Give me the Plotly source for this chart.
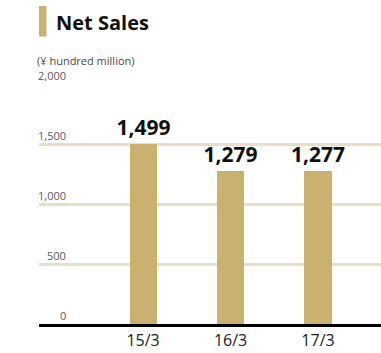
import plotly.graph_objects as go

# Net sales by fiscal year (¥ hundred million)
years = ["15/3", "16/3", "17/3"]
net_sales = [1499, 1279, 1277]
y_ticks = [0, 500, 1000, 1500, 2000]
y_tick_labels = ["0", "500", "1,000", "1,500", "2,000"]

GOLD = "#C9B170"
GRID = "#E9DFC3"
FONT = "Open Sans, sans-serif"

W, H = 381, 353
L, R, T, B = 39, 0, 84, 29
pw, ph = W - L - R, H - T - B


def px(x):
    return (x - L) / pw


def py(y):
    return (H - B - y) / ph


fig = go.Figure()
fig.add_trace(go.Bar(
    x=list(range(len(years))),
    y=net_sales,
    width=0.31,
    marker=dict(color=GOLD, line=dict(width=0)),
    text=[f"{v:,}" for v in net_sales],
    textposition="outside",
    constraintext="none",
    cliponaxis=False,
    textfont=dict(family=FONT, size=21, color="#111111", weight="bold"),
    hoverinfo="skip",
))

annotations = []
for v, lab in zip(y_ticks, y_tick_labels):
    annotations.append(dict(
        x=px(68), xref="paper", y=v, yref="y", text=lab,
        xanchor="right", yanchor="bottom", showarrow=False, yshift=-1,
        font=dict(family=FONT, size=11, color="#5a5a5a"),
    ))

annotations.append(dict(
    x=px(54), xref="paper", y=py(22), yref="paper", text="<b>Net Sales</b>",
    xanchor="left", yanchor="middle", showarrow=False,
    font=dict(family=FONT, size=20, color="#111111"),
))
annotations.append(dict(
    x=px(35), xref="paper", y=py(61), yref="paper", text="(¥ hundred million)",
    xanchor="left", yanchor="middle", showarrow=False,
    font=dict(family=FONT, size=11, color="#4a4a4a"),
))

shapes = [dict(
    type="rect", xref="paper", yref="paper",
    x0=px(39), x1=px(46.5), y0=py(36.5), y1=py(6),
    fillcolor=GOLD, line=dict(width=0),
)]

fig.update_layout(
    width=W, height=H,
    margin=dict(l=L, r=R, t=T, b=B),
    paper_bgcolor="white", plot_bgcolor="white",
    showlegend=False,
    bargap=0,
    font=dict(family=FONT),
    xaxis=dict(
        range=[-1.19, 2.72],
        tickvals=list(range(len(years))),
        ticktext=years,
        tickfont=dict(family=FONT, size=16, color="#222222"),
        showgrid=False, zeroline=False,
        showline=True, linecolor="#000000", linewidth=2.5,
        ticks="", ticklen=0,
        fixedrange=True,
    ),
    yaxis=dict(
        range=[0, 2000],
        tickvals=y_ticks,
        showticklabels=False,
        showgrid=True, gridcolor=GRID, gridwidth=2.5,
        zeroline=False, showline=False, ticks="",
        fixedrange=True,
    ),
    annotations=annotations,
    shapes=shapes,
)

fig.write_html("out.html", config={"displayModeBar": False})
